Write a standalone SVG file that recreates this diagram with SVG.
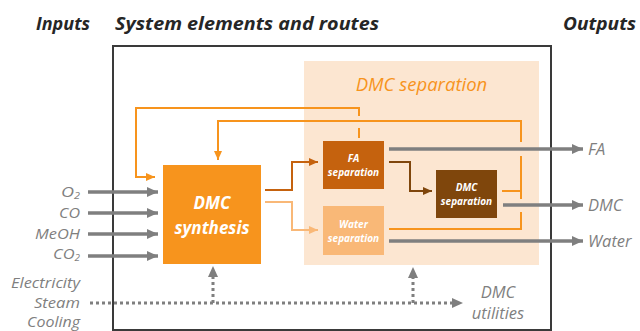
<svg xmlns="http://www.w3.org/2000/svg" width="640" height="331" viewBox="0 0 640 331">
<style>
.title{font-family:"Open Sans","Liberation Sans",sans-serif;font-weight:bold;font-style:italic;font-size:18.5px;fill:#262626}
.lbl{font-family:"Open Sans","Liberation Sans",sans-serif;font-style:italic;font-size:16.5px;fill:#7f7f7f}
.in{font-family:"Open Sans","Liberation Sans",sans-serif;font-style:italic;font-size:15px;fill:#7f7f7f;text-anchor:end}
.box{font-family:"Open Sans","Liberation Sans",sans-serif;font-style:italic;font-weight:bold;fill:#fff;text-anchor:middle}
.g{stroke:#7f7f7f;stroke-width:3.5;fill:none}
.dot{stroke:#7f7f7f;stroke-width:3;fill:none;stroke-dasharray:3 3}
.o{stroke:#f7941d;stroke-width:2;fill:none}
</style>
<defs>
<marker id="ag" markerUnits="userSpaceOnUse" markerWidth="12" markerHeight="12" refX="11" refY="6" orient="auto"><path d="M0,1 L11,6 L0,11 Z" fill="#7f7f7f"/></marker>
<marker id="ao" markerUnits="userSpaceOnUse" markerWidth="10" markerHeight="10" refX="9" refY="5" orient="auto"><path d="M0,1 L9,5 L0,9 Z" fill="#f7941d"/></marker>
<marker id="ad" markerUnits="userSpaceOnUse" markerWidth="10" markerHeight="10" refX="9" refY="5" orient="auto"><path d="M0,1 L9,5 L0,9 Z" fill="#c5620e"/></marker>
<marker id="al" markerUnits="userSpaceOnUse" markerWidth="10" markerHeight="10" refX="9" refY="5" orient="auto"><path d="M0,1 L9,5 L0,9 Z" fill="#f9b877"/></marker>
<marker id="ab" markerUnits="userSpaceOnUse" markerWidth="10" markerHeight="10" refX="9" refY="5" orient="auto"><path d="M0,1 L9,5 L0,9 Z" fill="#7f460c"/></marker>
</defs>
<text class="title" x="36" y="30" textLength="54" lengthAdjust="spacingAndGlyphs">Inputs</text>
<text class="title" x="115" y="30" textLength="264" lengthAdjust="spacingAndGlyphs">System elements and routes</text>
<text class="title" x="563" y="30" textLength="73" lengthAdjust="spacingAndGlyphs">Outputs</text>
<g id="system"><rect x="113" y="46" width="438" height="284" fill="#fff" stroke="#3a3a3a" stroke-width="2"/></g>
<g id="dmc-separation-area">
<rect x="304" y="61" width="235" height="204" fill="#fce6d1"/>
<text x="421.5" y="91" text-anchor="middle" style="font-family:'Open Sans','Liberation Sans',sans-serif;font-style:italic;font-size:18.5px;fill:#f7941d">DMC separation</text>
</g>
<g id="connectors">
<path class="o" d="M359,138 V128 M359,116 V108 H136 V177 H155" marker-end="url(#ao)"/>
<path class="o" d="M389,229 H521 V212 M521,199 V156 M521,142 V121 H218 V160" marker-end="url(#ao)"/>
<path class="o" d="M502,191 H521"/>
<path d="M265,190 H292 V162 H318" stroke="#c5620e" stroke-width="2" fill="none" marker-end="url(#ad)"/>
<path d="M265,202 H292 V230 H318" stroke="#f9b877" stroke-width="2" fill="none" marker-end="url(#al)"/>
<path d="M389,162 H410 V191 H432" stroke="#7f460c" stroke-width="2" fill="none" marker-end="url(#ab)"/>
<path class="g" d="M88,192 H158" marker-end="url(#ag)"/>
<path class="g" d="M88,213 H158" marker-end="url(#ag)"/>
<path class="g" d="M88,234 H158" marker-end="url(#ag)"/>
<path class="g" d="M88,256 H158" marker-end="url(#ag)"/>
<path class="g" d="M389,149 H583" marker-end="url(#ag)"/>
<path class="g" d="M503,205 H583" marker-end="url(#ag)"/>
<path class="g" d="M389,241 H583" marker-end="url(#ag)"/>
<path class="dot" d="M90,303 H452"/>
<path d="M452,298 L463,303 L452,308 Z" fill="#7f7f7f"/>
<path class="dot" d="M213,303 V276"/>
<path d="M208,277 L213,266 L218,277 Z" fill="#7f7f7f"/>
<path class="dot" d="M413,303 V277"/>
<path d="M408,278 L413,267 L418,278 Z" fill="#7f7f7f"/>
</g>
<g id="dmc-synthesis">
<rect x="163" y="165" width="98" height="99" fill="#f7941d"/>
<text class="box" x="212" y="209" font-size="17">DMC</text>
<text class="box" x="212" y="234" font-size="17">synthesis</text>
</g>
<g id="fa-separation">
<rect x="323" y="141" width="61" height="48" fill="#c5620e"/>
<text class="box" x="353.5" y="162" font-size="10">FA</text>
<text class="box" x="353.5" y="176" font-size="10">separation</text>
</g>
<g id="water-separation">
<rect x="323" y="206" width="61" height="49" fill="#f9b877"/>
<text class="box" x="353.5" y="228" font-size="10">Water</text>
<text class="box" x="353.5" y="242" font-size="10">separation</text>
</g>
<g id="dmc-sep">
<rect x="436" y="170" width="61" height="48" fill="#7f460c"/>
<text class="box" x="466.5" y="191" font-size="10">DMC</text>
<text class="box" x="466.5" y="205" font-size="10">separation</text>
</g>
<g id="inputs">
<text class="in" x="80" y="197" textLength="19" lengthAdjust="spacingAndGlyphs">O<tspan font-size="9" dy="2">2</tspan></text>
<text class="in" x="80" y="218" textLength="21" lengthAdjust="spacingAndGlyphs">CO</text>
<text class="in" x="80" y="239" textLength="45" lengthAdjust="spacingAndGlyphs">MeOH</text>
<text class="in" x="80" y="259" textLength="27" lengthAdjust="spacingAndGlyphs">CO<tspan font-size="9" dy="2">2</tspan></text>
<text class="in" x="80" y="288" textLength="69" lengthAdjust="spacingAndGlyphs">Electricity</text>
<text class="in" x="80" y="308" textLength="46" lengthAdjust="spacingAndGlyphs">Steam</text>
<text class="in" x="80" y="327" textLength="53" lengthAdjust="spacingAndGlyphs">Cooling</text>
</g>
<g id="outputs">
<text class="lbl" x="588" y="155">FA</text>
<text class="lbl" x="588" y="211">DMC</text>
<text class="lbl" x="588" y="247">Water</text>
<text class="lbl" x="498" y="298" text-anchor="middle">DMC</text>
<text class="lbl" x="498" y="319" text-anchor="middle">utilities</text>
</g>
</svg>
